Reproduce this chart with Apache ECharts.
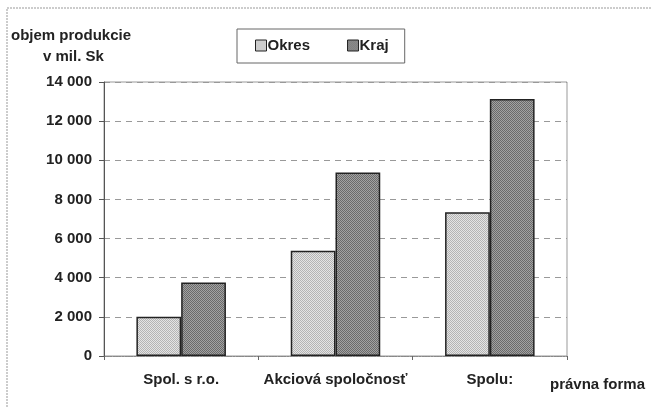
<!DOCTYPE html>
<html>
<head>
<meta charset="utf-8">
<script src="https://cdn.jsdelivr.net/npm/echarts@6/dist/echarts.min.js"></script>
<style>
  html, body { margin: 0; padding: 0; background: #fff; }
  #chart { width: 651px; height: 408px; }
</style>
</head>
<body>
<div id="chart"></div>
<script>
// data
var categories = ["Spol. s r.o.", "Akciová spoločnosť", "Spolu:"];
var okres = [2010, 5380, 7350];
var kraj = [3750, 9370, 13130];
var yTicks = [0, 2000, 4000, 6000, 8000, 10000, 12000, 14000];

// halftone-like fill
function makePattern(dark, light) {
  var c = document.createElement("canvas");
  c.width = 2;
  c.height = 2;
  var ctx = c.getContext("2d");
  ctx.fillStyle = light;
  ctx.fillRect(0, 0, 2, 2);
  ctx.fillStyle = dark;
  ctx.fillRect(0, 0, 1, 1);
  ctx.fillRect(1, 1, 1, 1);
  return { image: c, repeat: "repeat" };
}
var okresFill = makePattern("#b4b4b4", "#e4e4e4");
var krajFill = makePattern("#6a6a6a", "#a2a2a2");

function fmt(v) {
  return String(v).replace(/\B(?=(\d{3})+(?!\d))/g, " ");
}

var font = "Liberation Sans, Arial, sans-serif";
var chart = echarts.init(document.getElementById("chart"));

var option = {
  animation: false,
  backgroundColor: "#fff",
  textStyle: { fontFamily: font },
  grid: {
    left: 104,
    right: 84,
    top: 82,
    bottom: 52,
    show: true,
    borderColor: "#999",
    borderWidth: 1
  },
  legend: {
    left: 237,
    top: 29,
    padding: [9, 16, 10, 18],
    itemGap: 37,
    itemWidth: 11,
    itemHeight: 11,
    borderColor: "#666",
    borderWidth: 1,
    textStyle: { fontFamily: font, fontWeight: "bold", fontSize: 15, color: "#222", padding: [0, 0, 0, -4] },
    data: [
      { name: "Okres", icon: "rect", itemStyle: { color: okresFill, borderColor: "#222", borderWidth: 1 } },
      { name: "Kraj", icon: "rect", itemStyle: { color: krajFill, borderColor: "#222", borderWidth: 1 } }
    ]
  },
  xAxis: {
    type: "category",
    data: categories,
    axisLine: { lineStyle: { color: "#888", width: 1, type: [2, 1] } },
    axisTick: { show: true, alignWithLabel: false, length: 4, inside: false, lineStyle: { color: "#666" } },
    axisLabel: {
      interval: 0,
      margin: 16,
      fontFamily: font,
      fontWeight: "bold",
      fontSize: 15,
      color: "#222"
    }
  },
  yAxis: {
    type: "value",
    min: yTicks[0],
    max: yTicks[yTicks.length - 1],
    interval: 2000,
    axisLine: { show: true, lineStyle: { color: "#555", width: 1 } },
    axisTick: { show: true, length: 5, lineStyle: { color: "#555" } },
    axisLabel: {
      margin: 12,
      fontFamily: font,
      fontWeight: "bold",
      fontSize: 15,
      color: "#222",
      formatter: function (v) { return fmt(v); }
    },
    splitLine: { show: true, lineStyle: { color: "#999", type: [6, 5], width: 1 } }
  },
  series: [
    {
      name: "Okres",
      type: "bar",
      data: okres,
      barGap: "0%",
      barCategoryGap: "42%",
      itemStyle: { color: okresFill, borderColor: "#222", borderWidth: 1.5 }
    },
    {
      name: "Kraj",
      type: "bar",
      data: kraj,
      itemStyle: { color: krajFill, borderColor: "#222", borderWidth: 1.5 }
    }
  ],
  graphic: [
    {
      type: "rect",
      silent: true,
      shape: { x: 7, y: 8, width: 700, height: 500 },
      style: { fill: null, stroke: "#999", lineWidth: 1, lineDash: [2, 1] }
    },
    {
      type: "text",
      left: 11,
      top: 28,
      style: { text: "objem produkcie", font: "bold 15px " + font, fill: "#222" }
    },
    {
      type: "text",
      left: 43,
      top: 49,
      style: { text: "v mil. Sk", font: "bold 15px " + font, fill: "#222" }
    },
    {
      type: "text",
      left: 550,
      top: 377,
      style: { text: "právna forma", font: "bold 15px " + font, fill: "#222" }
    }
  ]
};

chart.setOption(option);
</script>
</body>
</html>
